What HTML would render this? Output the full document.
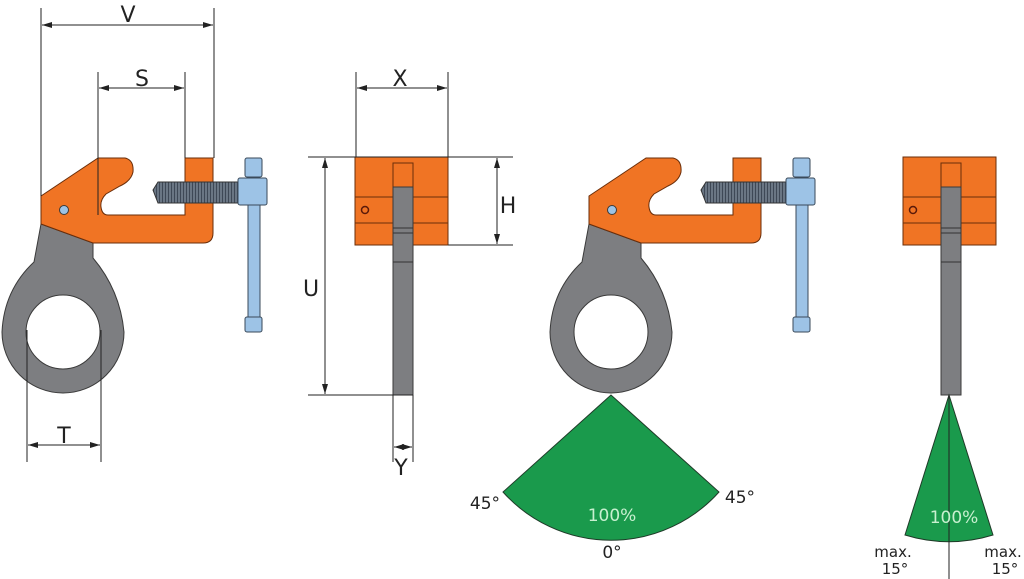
<!DOCTYPE html>
<html><head><style>
html,body{margin:0;padding:0;background:#fff;}
svg{display:block;}
text{font-family:"DejaVu Sans","Liberation Sans",sans-serif;}
</style></head><body>
<svg width="1024" height="579" viewBox="0 0 1024 579" xmlns="http://www.w3.org/2000/svg">
<defs>
<marker id="a" markerWidth="10" markerHeight="6" refX="10" refY="3" orient="auto-start-reverse" markerUnits="userSpaceOnUse">
<path d="M0,0 L10,3 L0,6 Z" fill="#222"/></marker>
<pattern id="th" width="3" height="4" patternUnits="userSpaceOnUse"><rect width="3" height="4" fill="#6a7684"/><rect width="1" height="4" fill="#3e4856"/></pattern>
<g id="clamp">
  <path d="M41,224 L93,243 L93,258 Q120,290 124,332 A61,61 0 1 1 2,332 Q4,290 34,262 Z" fill="#7d7e81" stroke="#3a3a3a" stroke-width="1"/>
  <circle cx="63" cy="332" r="37" fill="#fff" stroke="#3a3a3a" stroke-width="1"/>
  <path d="M41,196 L98,158 L125,158 Q134,160 133,172 Q131,181 120,186 L106,194 Q100,200 101,207 Q102,215 108,215 L185,215 L185,158 L213,158 L213,233 Q213,243 203,243 L93,243 L41,224 Z" fill="#f07424" stroke="#6a2e0a" stroke-width="1"/>
  <circle cx="64" cy="210" r="4.5" fill="#9dc3e6" stroke="#3a3a3a" stroke-width="1"/>
  <path d="M153,190 L158,182 L240,182 L240,203 L158,203 Z" fill="url(#th)" stroke="#333" stroke-width="1"/>
  <rect x="238" y="178" width="29" height="27" rx="2" fill="#9dc3e6" stroke="#3a4a5a" stroke-width="1"/>
  <rect x="245" y="158" width="17" height="19" rx="2" fill="#9dc3e6" stroke="#3a4a5a" stroke-width="1"/>
  <rect x="248" y="205" width="12" height="112" fill="#9dc3e6" stroke="#3a4a5a" stroke-width="1"/>
  <rect x="245" y="317" width="17" height="15" rx="2" fill="#9dc3e6" stroke="#3a4a5a" stroke-width="1"/>
</g>
<g id="side">
  <rect x="355" y="157" width="93" height="88" fill="#f07424" stroke="#6a2e0a" stroke-width="1"/>
  <line x1="355" y1="197" x2="448" y2="197" stroke="#6a2e0a"/>
  <line x1="355" y1="223" x2="448" y2="223" stroke="#6a2e0a"/>
  <rect x="393" y="163" width="20" height="30" fill="#f07424" stroke="#6a2e0a"/>
  <rect x="393" y="187" width="20" height="208" fill="#7d7e81" stroke="#3a3a3a" stroke-width="1"/>
  <line x1="393" y1="228" x2="413" y2="228" stroke="#333"/>
  <line x1="393" y1="233" x2="413" y2="233" stroke="#333"/>
  <line x1="393" y1="262" x2="413" y2="262" stroke="#333"/>
  <circle cx="365" cy="210" r="3.5" fill="none" stroke="#5a1a0a" stroke-width="1.5"/>
</g>
</defs>

<use href="#clamp"/>
<use href="#clamp" x="548"/>
<use href="#side"/>
<use href="#side" x="548"/>

<g stroke="#222" stroke-width="1" fill="none">
  <line x1="41" y1="8" x2="41" y2="196"/><line x1="214" y1="8" x2="214" y2="158"/>
  <line x1="42" y1="25" x2="213" y2="25" marker-start="url(#a)" marker-end="url(#a)"/>
  <line x1="98" y1="72" x2="98" y2="215"/><line x1="185" y1="72" x2="185" y2="158"/>
  <line x1="99" y1="88" x2="184" y2="88" marker-start="url(#a)" marker-end="url(#a)"/>
  <line x1="27" y1="330" x2="27" y2="462"/><line x1="101" y1="330" x2="101" y2="462"/>
  <line x1="28" y1="445" x2="100" y2="445" marker-start="url(#a)" marker-end="url(#a)"/>
  <line x1="356" y1="72" x2="356" y2="157"/><line x1="448" y1="72" x2="448" y2="157"/>
  <line x1="357" y1="88" x2="447" y2="88" marker-start="url(#a)" marker-end="url(#a)"/>
  <line x1="308" y1="157" x2="513" y2="157"/>
  <line x1="448" y1="245" x2="513" y2="245"/>
  <line x1="308" y1="395" x2="413" y2="395"/>
  <line x1="325" y1="158" x2="325" y2="394" marker-start="url(#a)" marker-end="url(#a)"/>
  <line x1="497" y1="158" x2="497" y2="244" marker-start="url(#a)" marker-end="url(#a)"/>
  <line x1="393" y1="395" x2="393" y2="462"/><line x1="413" y1="395" x2="413" y2="462"/>
  <line x1="394" y1="447" x2="412" y2="447" marker-start="url(#a)" marker-end="url(#a)"/>
</g>
<g font-size="22" fill="#222" text-anchor="middle">
  <text x="128" y="22">V</text>
  <text x="142" y="86">S</text>
  <text x="64" y="443">T</text>
  <text x="400" y="86">X</text>
  <text x="311" y="296">U</text>
  <text x="508" y="213">H</text>
  <text x="401" y="475">Y</text>
</g>

<path d="M611,395 L503,492 A145,145 0 0 0 719,492 Z" fill="#1a9a4c" stroke="#1f3a28" stroke-width="1"/>
<path d="M949,395 L905,535 A148,148 0 0 0 993,535 Z" fill="#1a9a4c" stroke="#1f3a28" stroke-width="1"/>
<line x1="949" y1="395" x2="949" y2="579" stroke="#222"/>
<g font-size="17" text-anchor="middle">
  <text x="612" y="521" fill="#c8f0d0">100%</text>
  <text x="954" y="523" fill="#c8f0d0">100%</text>
  <text x="485" y="509" fill="#222">45°</text>
  <text x="740" y="503" fill="#222">45°</text>
  <text x="612" y="558" fill="#222">0°</text>
  <text x="893" y="557" fill="#222" font-size="15">max.</text>
  <text x="895" y="574" fill="#222" font-size="15">15°</text>
  <text x="1003" y="557" fill="#222" font-size="15">max.</text>
  <text x="1005" y="574" fill="#222" font-size="15">15°</text>
</g>
</svg>
</body></html>
